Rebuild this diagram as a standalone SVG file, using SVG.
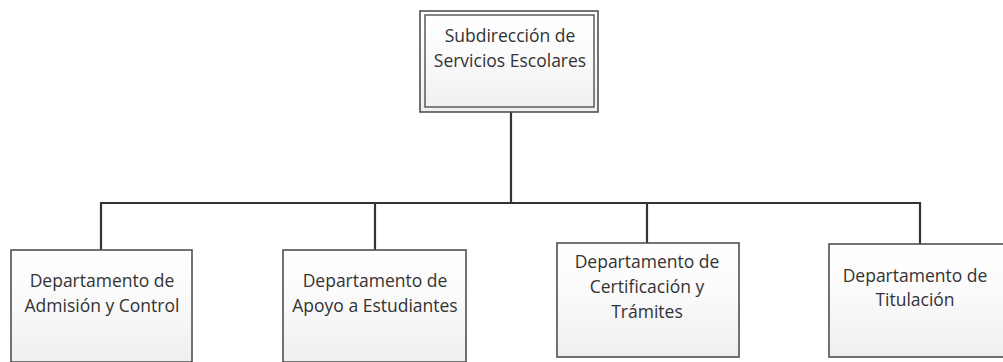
<svg xmlns="http://www.w3.org/2000/svg" width="1003" height="362" viewBox="0 0 1003 362">
<defs>
<linearGradient id="g" x1="0" y1="0" x2="0" y2="1">
<stop offset="0" stop-color="#ffffff"/>
<stop offset="0.4" stop-color="#fbfbfb"/>
<stop offset="1" stop-color="#efefef"/>
</linearGradient>
<style>
.box{fill:url(#g);stroke:#505050;stroke-width:1.6}
.inner{fill:none;stroke:#505050;stroke-width:1.4}
.lbl{font-family:"Open Sans","Liberation Sans",sans-serif;font-size:17.5px;fill:#333333;text-anchor:middle}
.conn{fill:none;stroke:#333333;stroke-width:2.2}
</style>
</defs>
<rect width="1003" height="362" fill="#ffffff"/>
<g id="connectors">
<path class="conn" d="M511 112 V203"/>
<path class="conn" d="M101 250 V203 H920 V244"/>
<path class="conn" d="M375 203 V250"/>
<path class="conn" d="M647 203 V243"/>
</g>
<g id="top">
<rect class="box" x="420" y="11" width="178" height="101"/>
<rect class="inner" x="425" y="15" width="169" height="92"/>
<text class="lbl" x="510" y="42">Subdirección de</text>
<text class="lbl" x="510" y="67">Servicios Escolares</text>
</g>
<g id="admision">
<rect class="box" x="11" y="250" width="181" height="112"/>
<text class="lbl" x="102" y="287">Departamento de</text>
<text class="lbl" x="102" y="312">Admisión y Control</text>
</g>
<g id="apoyo">
<rect class="box" x="283" y="250" width="183" height="112"/>
<text class="lbl" x="375" y="287">Departamento de</text>
<text class="lbl" x="375" y="312">Apoyo a Estudiantes</text>
</g>
<g id="certificacion">
<rect class="box" x="557" y="243" width="182" height="114"/>
<text class="lbl" x="647" y="268">Departamento de</text>
<text class="lbl" x="647" y="293">Certificación y</text>
<text class="lbl" x="647" y="318">Trámites</text>
</g>
<g id="titulacion">
<rect class="box" x="829" y="244" width="180" height="113"/>
<text class="lbl" x="915" y="282">Departamento de</text>
<text class="lbl" x="915" y="306">Titulación</text>
</g>
</svg>
